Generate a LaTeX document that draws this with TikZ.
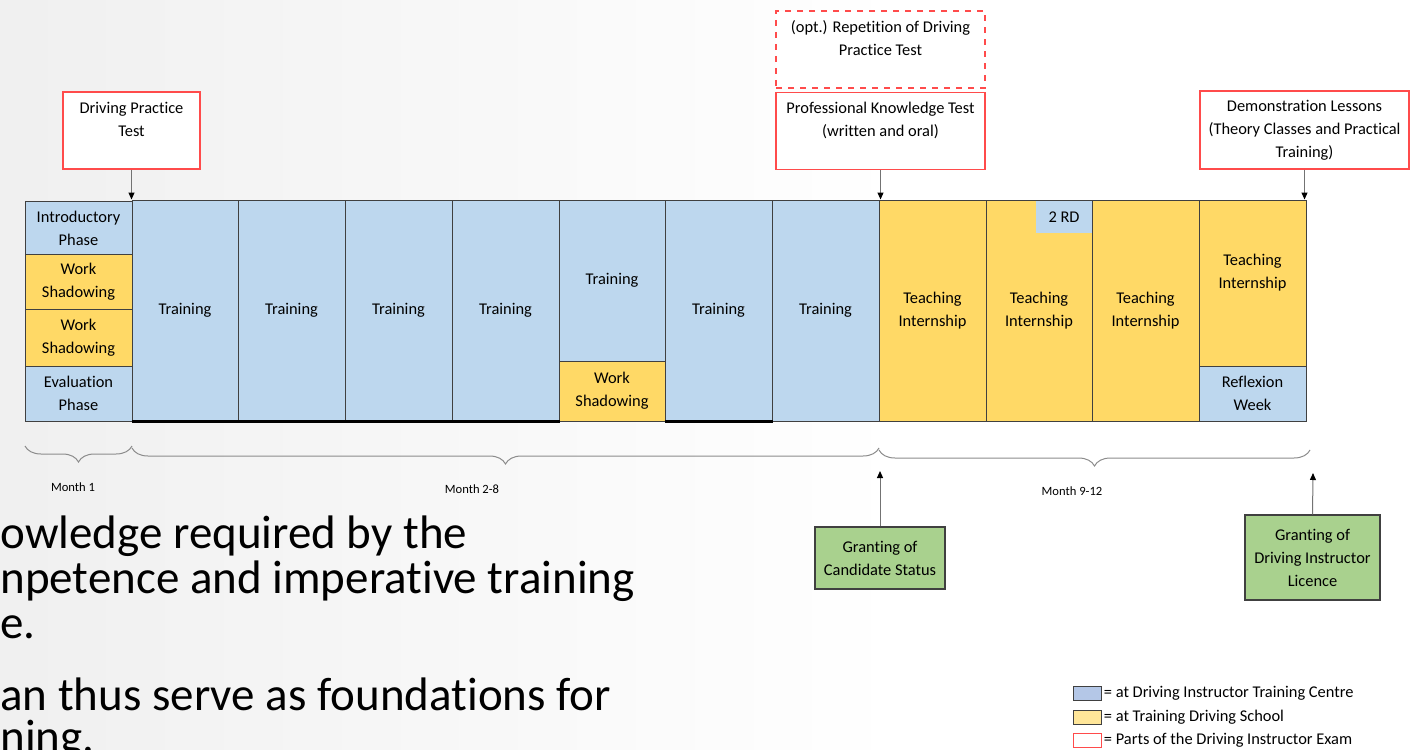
\documentclass[tikz,border=0pt]{standalone}
\usepackage{fontspec}
\setmainfont{Carlito}[Ligatures=NoCommon]
\usetikzlibrary{arrows.meta,positioning,decorations.pathreplacing}

\definecolor{centreblue}{HTML}{BDD7EE}
\definecolor{schoolyellow}{HTML}{FFD966}
\definecolor{legendblue}{HTML}{B4C7E7}
\definecolor{legendyellow}{HTML}{FFE699}
\definecolor{examred}{HTML}{FF4B4B}
\definecolor{grantgreen}{HTML}{A9D18E}
\definecolor{cellline}{HTML}{404040}

\tikzset{
    cell/.style={draw=cellline, line width=0.5pt, inner sep=0pt, align=center},
    cellblue/.style={cell, fill=centreblue},
    cellyellow/.style={cell, fill=schoolyellow},
    exam/.style={draw=examred, fill=white, line width=0.6pt, align=center, inner sep=1pt,
        minimum width=104.5pt, minimum height=38.5pt},
    examopt/.style={exam, dashed},
    grant/.style={draw=black!75, fill=grantgreen, line width=0.6pt, align=center, inner sep=1pt},
    arr/.style={draw=black!55, line width=0.5pt, -{Triangle[length=3.5pt,width=3pt,color=black]}},
    monthbrace/.style={draw=black!45, line width=0.5pt, decorate,
        decoration={brace, mirror, amplitude=8pt}},
    monthlbl/.style={font=\fontsize{6.3}{7.5}\selectfont},
    legbox/.style={draw=cellline, line width=0.5pt, minimum width=14pt, minimum height=7pt, inner sep=0pt},
    legtxt/.style={inner sep=0pt},
    slidetxt/.style={anchor=base west, inner sep=0pt, align=left, font=\fontsize{23.5}{22.5}\selectfont},
}

\begin{document}
\begin{tikzpicture}[x=0.5pt, y=-0.5pt, font=\fontsize{8.2}{11.5}\selectfont]
    \useasboundingbox (0,0) rectangle (1416,749);
    % background
    \shade[left color=black!6, right color=white] (0,0) rectangle (900,749);

    % slide text behind the plan (anchored at its last line)
    \node[slidetxt] (bodya) at (0,638) {owledge required by the\\npetence and imperative training\\e.};
    \node[slidetxt, font=\fontsize{23.5}{21}\selectfont] (bodyb) at (0,752) {an thus serve as foundations for\\ning.};

    % month 1
    \node[cellblue, minimum width=53.5pt, minimum height=27pt] (intro) at (78.5,228) {Introductory\\Phase};
    \node[cellyellow, minimum width=53.5pt, minimum height=27.5pt] (shadowa) at (78.5,281.5) {Work\\Shadowing};
    \node[cellyellow, minimum width=53.5pt, minimum height=28.5pt] (shadowb) at (78.5,337.5) {Work\\Shadowing};
    \node[cellblue, minimum width=53.5pt, minimum height=27.5pt] (evalph) at (78.5,393.5) {Evaluation\\Phase};

    % month 2-8
    \foreach \i/\xa/\xb in {2/132/238, 3/238/345, 4/345/452, 5/452/559, 7/665/772, 8/772/879}
        \node[cellblue, minimum width={(\xb-\xa)*0.5pt}, minimum height=110.5pt]
            (train\i) at ({(\xa+\xb)/2},310.5) {Training};
    \node[cellblue, minimum width=53pt, minimum height=80.5pt] (train6) at (612,280.5) {Training};
    \node[cellyellow, minimum width=53pt, minimum height=30pt] (shadow6) at (612,391) {Work\\Shadowing};
    \draw[line width=1.2pt] (train2.south west) -- (train5.south east);
    \draw[line width=1.2pt] (train7.south west) -- (train7.south east);

    % month 9-12
    \foreach \i/\xa/\xb in {9/879/986, 10/986/1092, 11/1092/1199}
        \node[cellyellow, minimum width={(\xb-\xa)*0.5pt}, minimum height=110.5pt]
            (teach\i) at ({(\xa+\xb)/2},310.5) {Teaching\\Internship};
    \node[fill=centreblue, inner sep=0pt, minimum width=28pt, minimum height=16pt] (rd) at (1064,217) {2 RD};
    \node[cellyellow, minimum width=53.5pt, minimum height=83pt] (teach12) at (1252.5,283) {Teaching\\Internship\\~};
    \node[cellblue, minimum width=53.5pt, minimum height=27.5pt] (reflex) at (1252.5,393.5) {Reflexion\\Week};

    % exam parts
    \node[exam, minimum width=68.5pt] (dpt) at (131.5,130.5) {Driving Practice\\Test\\~};
    \node[examopt] (rep) at (880.5,49.5) {(opt.) Repetition of Driving\\Practice Test\\~};
    \node[exam] (pkt) at (880.5,131) {Professional Knowledge Test\\(written and oral)\\~};
    \node[exam, minimum height=39pt] (demo) at (1304.5,130) {Demonstration Lessons\\(Theory Classes and Practical\\Training)};
    \draw[arr] (dpt.south) -- (dpt.south |- train2.north);
    \draw[arr] (pkt.south) -- (pkt.south |- teach9.north);
    \draw[arr] (demo.south) -- (demo.south |- teach12.north);

    % months
    \draw[monthbrace] (25,446) -- (132,446);
    \draw[monthbrace] (132,448) -- (879,448);
    \draw[monthbrace] (879,450) -- (1310,450);
    \node[monthlbl] (mone) at (73,487) {Month 1};
    \node[monthlbl] (mtwo) at (472,489) {Month 2-8};
    \node[monthlbl] (mnine) at (1072,491) {Month 9-12};

    % granting
    \node[grant, minimum width=65pt, minimum height=31pt] (cand) at (880,558) {Granting of\\Candidate Status};
    \node[grant, minimum width=67.5pt, minimum height=42.5pt] (lic) at (1312.5,557.5)
        {Granting of\\Driving Instructor\\Licence};
    \coordinate (candtip) at (880,471);
    \coordinate (lictip) at (1313,473);
    \draw[arr] (cand.north) -- (candtip);
    \draw[arr] (lic.north) -- (lictip);

    % legend
    \node[legbox, fill=legendblue] (legcentre) at (1087,693) {};
    \node[legbox, fill=legendyellow] (legschool) at (1087,717) {};
    \node[legbox, draw=examred, fill=white] (legexam) at (1087,740) {};
    \node[legtxt, right=1pt of legcentre] (legcentretxt) {= at Driving Instructor Training Centre};
    \node[legtxt, right=1pt of legschool] (legschooltxt) {= at Training Driving School};
    \node[legtxt, right=1pt of legexam] (legexamtxt) {= Parts of the Driving Instructor Exam};
\end{tikzpicture}
\end{document}
